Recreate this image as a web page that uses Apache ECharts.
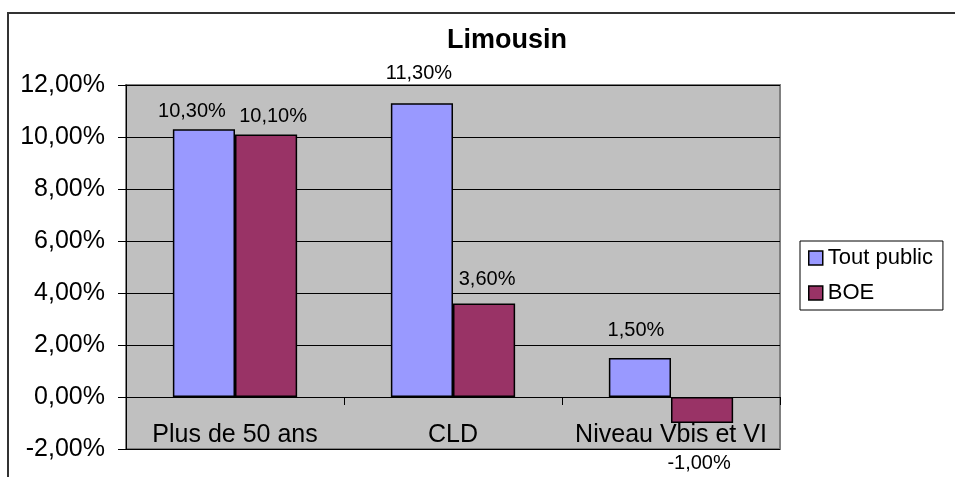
<!DOCTYPE html>
<html>
<head>
<meta charset="utf-8">
<script src="https://cdn.jsdelivr.net/npm/echarts@6/dist/echarts.min.js"></script>
<style>
  html, body { margin: 0; padding: 0; background: #fff; }
  #chart { width: 955px; height: 477px; }
</style>
</head>
<body>
<div id="chart"></div>
<script>
// données du graphique
var categories = ['Plus de 50 ans', 'CLD', 'Niveau Vbis et VI'];
var seriesNames = ['Tout public', 'BOE'];
var toutPublic = [0.103, 0.113, 0.015];
var boe = [0.101, 0.036, -0.010];

// petits réglages de position des étiquettes (distance, décalage x)
var labelTweak = [
  [[8, -12], [20, -3], [18, -4]],
  [[8, 7], [14, 3], [30, -3]]
];

var FONT = "'Liberation Sans', Arial, sans-serif";

function pct(v) {
  return (v * 100).toFixed(2).replace('.', ',') + '%';
}

function buildData(values, s) {
  return values.map(function (v, i) {
    var t = labelTweak[s][i];
    return {
      value: v,
      label: {
        position: v < 0 ? 'bottom' : 'top',
        distance: t[0],
        offset: [t[1], 0]
      }
    };
  });
}

var myChart = echarts.init(document.getElementById('chart'));

var option = {
  animation: false,
  textStyle: { fontFamily: FONT, color: '#000' },
  title: {
    text: 'Limousin',
    left: 447,
    top: 27,
    padding: 0,
    textStyle: { fontFamily: FONT, fontSize: 27, fontWeight: 'bold', color: '#000' }
  },
  graphic: [{
    type: 'rect',
    shape: { x: 8, y: 13, width: 1100, height: 600 },
    style: { fill: null, stroke: '#333', lineWidth: 2 },
    silent: true
  }],
  legend: {
    orient: 'vertical',
    left: 800,
    top: 241,
    padding: [5, 10, 5, 8],
    itemWidth: 14,
    itemHeight: 14,
    itemGap: 11,
    icon: 'rect',
    borderColor: '#000',
    borderWidth: 1,
    backgroundColor: '#fff',
    itemStyle: { borderColor: '#000', borderWidth: 1.5 },
    textStyle: { fontFamily: FONT, fontSize: 22, lineHeight: 24, color: '#000' },
    data: seriesNames
  },
  grid: {
    left: 126,
    right: 175,
    top: 85,
    bottom: 28,
    outerBoundsMode: 'none',
    containLabel: false,
    show: true,
    backgroundColor: '#C0C0C0',
    borderColor: '#808080',
    borderWidth: 2
  },
  xAxis: {
    type: 'category',
    data: categories,
    axisLine: { onZero: true, lineStyle: { color: '#000', width: 1 } },
    axisTick: { show: true, length: 8, lineStyle: { color: '#000' } },
    axisLabel: {
      interval: 0,
      hideOverlap: false,
      fontFamily: FONT,
      fontSize: 25,
      lineHeight: 25,
      color: '#000',
      margin: -14,
      verticalAlign: 'middle'
    }
  },
  yAxis: {
    type: 'value',
    min: -0.02,
    max: 0.12,
    interval: 0.02,
    axisLine: { show: true, lineStyle: { color: '#000', width: 1 } },
    axisTick: { show: true, length: 8, lineStyle: { color: '#000' } },
    splitLine: { show: true, lineStyle: { color: '#000', width: 1 } },
    axisLabel: {
      fontFamily: FONT,
      fontSize: 25,
      color: '#000',
      margin: 21,
      formatter: pct
    }
  },
  series: [
    {
      name: seriesNames[0],
      type: 'bar',
      data: buildData(toutPublic, 0),
      barGap: '0%',
      barCategoryGap: '43%',
      itemStyle: { color: '#9999FF', borderColor: '#000', borderWidth: 1.5 },
      label: {
        show: true,
        fontFamily: FONT,
        fontSize: 20,
        lineHeight: 20,
        color: '#000',
        formatter: function (p) { return pct(p.value); }
      }
    },
    {
      name: seriesNames[1],
      type: 'bar',
      data: buildData(boe, 1),
      barGap: '0%',
      barCategoryGap: '43%',
      itemStyle: { color: '#993366', borderColor: '#000', borderWidth: 1.5 },
      label: {
        show: true,
        fontFamily: FONT,
        fontSize: 20,
        lineHeight: 20,
        color: '#000',
        formatter: function (p) { return pct(p.value); }
      }
    }
  ]
};

myChart.setOption(option);
</script>
</body>
</html>
